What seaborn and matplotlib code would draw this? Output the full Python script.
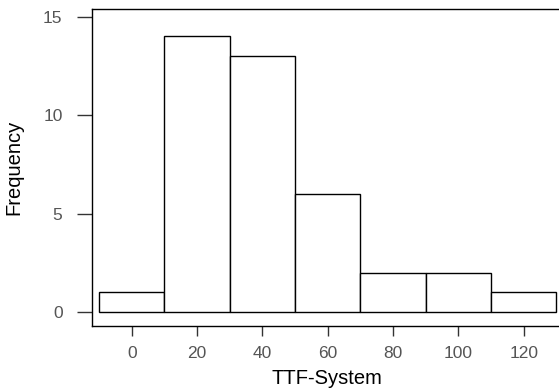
import numpy as np
import pandas as pd
import matplotlib
matplotlib.use("Agg")
import matplotlib.pyplot as plt
import seaborn as sns

# histogram bins
bin_edges = [-10, 10, 30, 50, 70, 90, 110, 130]
bin_mids = [0, 20, 40, 60, 80, 100, 120]
counts = [1, 14, 13, 6, 2, 2, 1]

x_ticks = [0, 20, 40, 60, 80, 100, 120]
y_ticks = [0, 5, 10, 15]

df = pd.DataFrame({"TTF-System": bin_mids, "n": counts})

sns.set_style("white")
plt.rcParams["font.family"] = ["Liberation Sans", "DejaVu Sans"]

fig = plt.figure(figsize=(5.59, 3.92), dpi=100)
ax = fig.add_axes([0.164, 0.169, 0.84, 0.807])

sns.histplot(data=df, x="TTF-System", weights="n", bins=bin_edges,
             color="white", edgecolor="black", linewidth=1.0, alpha=1,
             ax=ax)

ax.set_xlim(-12.3, 131.5)
ax.set_ylim(-0.7, 15.37)
ax.set_xticks(x_ticks)
ax.set_yticks(y_ticks)

for s in ["left", "bottom", "top"]:
    ax.spines[s].set_color("black")
    ax.spines[s].set_linewidth(1.0)
ax.spines["right"].set_visible(False)

ax.tick_params(axis="x", direction="out", length=7.5, width=1, color="#333333",
               labelsize=12.5, labelcolor="#555555", pad=7, bottom=True)
ax.tick_params(axis="y", direction="out", length=11, width=1, color="#333333",
               labelsize=12.5, labelcolor="#555555", pad=10, left=True)

ax.set_xlabel("TTF-System", fontsize=14.5, color="black", labelpad=6)
ax.set_ylabel("Frequency", fontsize=14.5, color="black", labelpad=14)

fig.savefig("out.png", dpi=100)
